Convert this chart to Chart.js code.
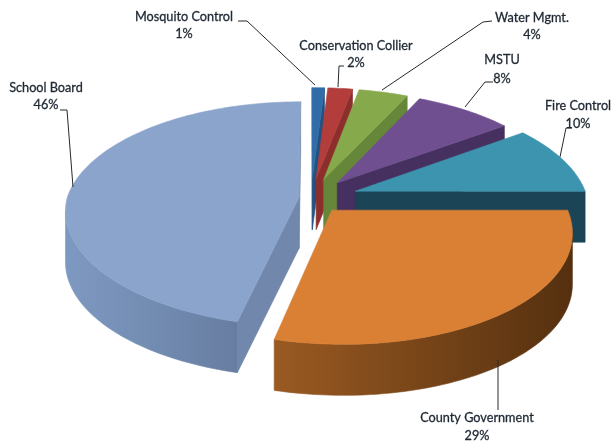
<!DOCTYPE html>
<html>
<head>
<meta charset="utf-8">
<title>Tax distribution</title>
<script src="https://cdn.jsdelivr.net/npm/chart.js@4"></script>
<style>
    html, body { margin: 0; padding: 0; background: #fff; }
    canvas { display: block; }
</style>
</head>
<body>
<canvas id="pieChart" width="611" height="442"></canvas>
<script>
// Chart values
const categories = ['Mosquito Control', 'Conservation Collier', 'Water Mgmt.', 'MSTU', 'Fire Control', 'County Government', 'School Board'];
const shares = [1, 2, 4, 8, 10, 29, 46];

// Slice styles
const topColors = ['#2f6ca8', '#b23d3a', '#86a94b', '#6f4f90', '#3d94ae', '#da8035', '#8ba4cc'];
const wallFrom = ['#24517f', '#8c2f2c', '#66873a', '#46305f', '#1b4456', '#9a5a22', '#7e99c1'];
const wallTo = ['#24517f', '#8c2f2c', '#66873a', '#46305f', '#1b4456', '#55300f', '#5f7496'];
const radialWalls = ['#24517f', '#8c2f2c', '#66873a', '#46305f', '#1b4456', '#9a5a22', '#7187ab'];
const sliceOffsets = [42, 42, 42, 42, 47, 32, 12];

// Label placement: centre x, name baseline y, percent baseline y
const labelSpots = [
    [184, 21, 38], [356, 50, 67], [532, 22, 39], [502, 64, 83],
    [578, 110, 128], [477, 422, 440], [46, 92, 109]
];
const leaderLines = [
    [[238, 21], [247, 21], [315, 85]],
    [[344, 66], [339, 66], [338, 87]],
    [[492, 21], [483, 22], [382, 90]],
    [[493, 82], [485, 82], [465, 107]],
    [[572, 128], [566, 128], [560, 157]],
    [[498, 410], [498, 360]],
    [[60, 110], [67, 110], [73, 187]]
];

// Tilted view of the pie plane
const view = { x: 311, y: 198, tilt: 110 / 232, perspective: 0.15, nearShift: 8, depth: 51 };

function project(chart, px, py, radius) {
    const u = px - chart.width / 2;
    const v = py - chart.height / 2;
    const s = 1 / (1 - view.perspective * v / radius);
    const shift = v > 0 ? view.nearShift * v / radius : 0;
    return { x: view.x + u * s + shift, y: view.y + v * view.tilt * s };
}

// Outline of one slice: apex first, then the rim from start to end angle
function sliceOutline(chart, arc) {
    const mid = (arc.startAngle + arc.endAngle) / 2;
    const cx = arc.x + Math.cos(mid) * arc.options.offset;
    const cy = arc.y + Math.sin(mid) * arc.options.offset;
    const pts = [project(chart, cx, cy, arc.outerRadius)];
    const steps = Math.max(4, Math.ceil((arc.endAngle - arc.startAngle) * 40));
    for (let i = 0; i <= steps; i++) {
        const a = arc.startAngle + (arc.endAngle - arc.startAngle) * i / steps;
        pts.push(project(chart, cx + Math.cos(a) * arc.outerRadius, cy + Math.sin(a) * arc.outerRadius, arc.outerRadius));
    }
    return pts;
}

function fillPolygon(ctx, pts, color) {
    ctx.beginPath();
    pts.forEach((p, i) => i ? ctx.lineTo(p.x, p.y) : ctx.moveTo(p.x, p.y));
    ctx.closePath();
    ctx.fillStyle = color;
    ctx.strokeStyle = color;
    ctx.lineWidth = 0.6;
    ctx.fill();
    ctx.stroke();
}

// Extrudes a run of outline points straight down
function fillWall(ctx, run, color) {
    const lower = run.map(p => ({ x: p.x, y: p.y + view.depth })).reverse();
    fillPolygon(ctx, run.concat(lower), color);
}

function drawSlice(chart, arc, index) {
    const ctx = chart.ctx;
    const pts = sliceOutline(chart, arc);
    const rim = pts.slice(1);
    const xs = rim.map(p => p.x);
    const shade = ctx.createLinearGradient(Math.min(...xs), 0, Math.max(...xs), 0);
    shade.addColorStop(0, wallFrom[index]);
    shade.addColorStop(1, wallTo[index]);

    // Only the edges that run right to left face the viewer
    const apex = pts[0];
    if (rim[0].x < apex.x) fillWall(ctx, [apex, rim[0]], radialWalls[index]);
    if (apex.x < rim[rim.length - 1].x) fillWall(ctx, [rim[rim.length - 1], apex], radialWalls[index]);

    let run = [];
    for (let i = 0; i < rim.length - 1; i++) {
        if (rim[i + 1].x < rim[i].x) {
            if (!run.length) run.push(rim[i]);
            run.push(rim[i + 1]);
        } else if (run.length) {
            fillWall(ctx, run, shade);
            run = [];
        }
    }
    if (run.length) fillWall(ctx, run, shade);

    fillPolygon(ctx, pts, topColors[index]);
}

const pie3d = {
    id: 'pie3d',
    beforeDatasetDraw(chart, args) {
        chart.getDatasetMeta(args.index).data.forEach((arc, i) => drawSlice(chart, arc, i));
        return false;
    },
    afterDraw(chart) {
        const ctx = chart.ctx;
        ctx.save();
        ctx.strokeStyle = '#26282c';
        ctx.lineWidth = 1;
        leaderLines.forEach(line => {
            ctx.beginPath();
            line.forEach((p, i) => i ? ctx.lineTo(p[0], p[1]) : ctx.moveTo(p[0], p[1]));
            ctx.stroke();
        });
        ctx.fillStyle = '#1f2833';
        ctx.strokeStyle = '#1f2833';
        ctx.lineWidth = 0.3;
        ctx.font = '12.7px Lato';
        ctx.textAlign = 'center';
        categories.forEach((name, i) => {
            const spot = labelSpots[i];
            ctx.fillText(name, spot[0], spot[1]);
            ctx.strokeText(name, spot[0], spot[1]);
            ctx.fillText(shares[i] + '%', spot[0], spot[2]);
            ctx.strokeText(shares[i] + '%', spot[0], spot[2]);
        });
        ctx.restore();
    }
};

new Chart(document.getElementById('pieChart').getContext('2d'), {
    type: 'pie',
    data: {
        labels: categories,
        datasets: [{
            data: shares,
            backgroundColor: topColors,
            offset: sliceOffsets,
            borderWidth: 0
        }]
    },
    options: {
        responsive: false,
        animation: false,
        radius: 232,
        plugins: { legend: { display: false }, tooltip: { enabled: false } },
        events: []
    },
    plugins: [pie3d]
});
</script>
</body>
</html>
